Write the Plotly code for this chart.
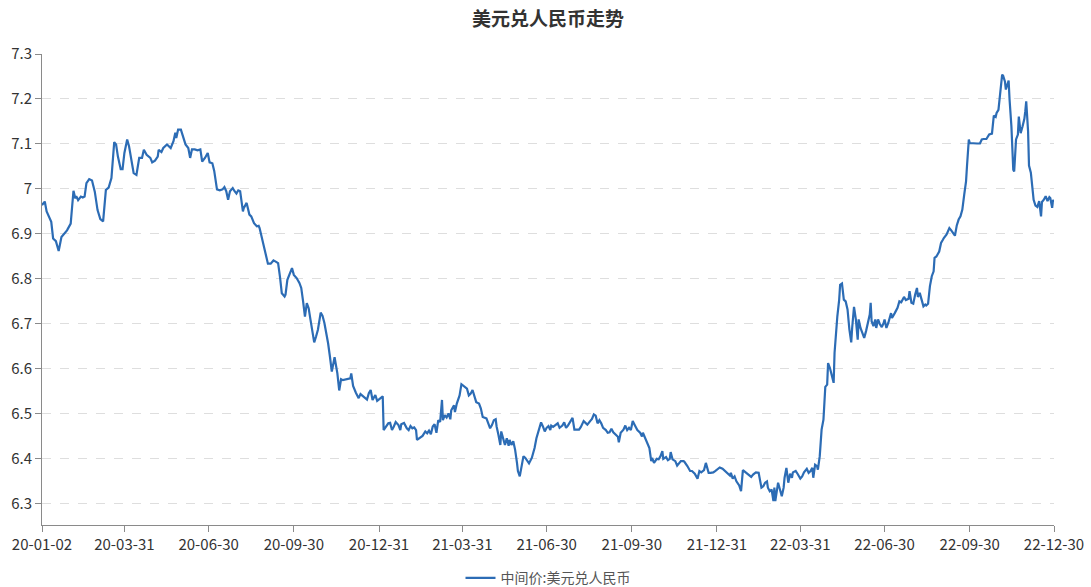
import pandas as pd
import plotly.graph_objects as go

# ---- data ----
start_date = "2020-01-02"

# days elapsed since start_date for every plotted observation
day_offset = [
    0, 3, 5, 8, 10, 12, 15, 18, 21, 27, 31, 34, 36, 37, 39, 42, 44, 46, 48, 51, 54, 57, 60, 63, 66, 69, 72, 75, 78, 80,
    82, 85, 87, 89, 92, 94, 97, 99, 102, 105, 108, 110, 113, 117, 119, 122, 125, 126, 129, 131, 135, 137, 139, 142, 144,
    145, 147, 150, 153, 155, 158, 160, 162, 165, 168, 171, 173, 176, 179, 181, 184,
    186, 189, 192, 195, 197, 199, 201, 203, 206, 208, 210, 212, 214, 217, 218, 221, 224, 226, 229, 232, 234, 235, 238,
    241, 244, 247, 250, 252, 255, 257, 259, 262, 263, 265, 268, 270, 272, 275, 278, 280, 282, 284, 286, 288, 290, 292,
    294, 296, 298, 301, 303, 305, 307, 309, 311, 313, 316, 317, 319, 321, 323, 325, 329, 333, 334, 336, 339, 342, 344,
    347, 351, 353, 355, 357, 360, 362,
    365, 368, 369, 372, 374, 376, 378, 380, 382, 385, 387, 388, 391, 394, 396, 398, 400, 402, 404, 405, 408, 411, 414,
    416, 418, 420, 422, 424, 426, 428, 430, 432, 433, 435, 437, 439, 441, 442, 445, 446, 448, 450, 451, 453, 455, 457,
    459, 461, 463, 465, 467, 469, 472, 474, 476, 478, 480, 482, 484, 486, 488, 490, 491, 493, 495, 496, 498, 500, 502,
    504, 505, 507, 509, 511, 513, 514, 516, 518, 520, 522, 524, 526, 529, 532, 534, 537, 539, 541,
    543, 545, 547, 549, 550, 552, 555, 557, 559, 562, 564, 566, 568, 570, 573, 575, 577, 580, 582, 585, 587, 589, 592,
    594, 596, 598, 600, 602, 604, 606, 609, 611, 613, 615, 617, 620, 622, 623, 625, 628, 630, 632, 634, 636, 638, 640,
    643, 646, 648, 649, 651, 653, 656, 658, 659, 661, 664, 666, 668, 670, 671, 674, 676, 678, 679, 681, 684, 686, 688,
    690, 693, 694, 697, 700, 702, 705, 708, 710, 712, 715, 717, 720, 722, 725,
    727, 730, 732, 735, 738, 741, 743, 744, 746, 748, 750, 753, 755, 757, 760, 763, 766, 768, 771, 774, 775, 777, 779,
    781, 783, 784, 786, 788, 790, 791, 792, 794, 795, 797, 799, 801, 802, 804, 806, 808, 810, 811, 814, 816, 819, 821,
    823, 826, 828, 830, 832, 833, 835, 837, 838, 840, 842, 844, 845, 846, 848, 849, 851, 853, 855, 856, 857, 859, 861,
    862, 864, 866, 868, 870, 872, 874, 875, 877, 879, 881, 882, 884, 886, 888, 890, 892, 894, 895, 896, 898, 900, 901,
    903, 905, 907, 909, 910, 912, 914, 917, 918,
    921, 924, 926, 928, 931, 933, 936, 937, 939, 941, 943, 945, 946, 948, 950, 952, 954, 955, 957, 959, 961, 963, 964,
    966, 969, 971, 973, 974, 977, 980, 982, 984, 986, 988, 990, 992, 994, 996, 998, 999, 1001, 1002, 1006, 1010, 1013,
    1015, 1017, 1020, 1023, 1026, 1027, 1028, 1030, 1031, 1033, 1034, 1035, 1037, 1038, 1040, 1041, 1043, 1044, 1045,
    1047, 1049, 1050, 1052, 1054, 1055, 1057, 1059, 1061, 1062, 1063, 1065, 1066, 1068, 1070, 1071, 1073, 1075, 1077,
    1079, 1080, 1082, 1084, 1086, 1088, 1089, 1091, 1092, 1093,
]

usd_cny = [
    6.964, 6.972, 6.950, 6.934, 6.927, 6.890, 6.884, 6.862, 6.893, 6.908, 6.923, 6.996, 6.979, 6.984, 6.975, 6.983,
    6.981, 6.983, 7.013, 7.022, 7.019, 6.994, 6.953, 6.933, 6.928, 6.998, 7.003, 7.024, 7.104, 7.099, 7.072, 7.044,
    7.044, 7.080, 7.110, 7.095, 7.057, 7.035, 7.031, 7.069, 7.069, 7.087, 7.076, 7.069, 7.059, 7.063, 7.072, 7.087,
    7.082, 7.091, 7.099, 7.095, 7.091, 7.106, 7.125, 7.113, 7.132, 7.132, 7.110, 7.099, 7.091, 7.069, 7.088, 7.088,
    7.086, 7.088, 7.061, 7.069, 7.080, 7.059, 7.057,
    7.040, 6.999, 6.997, 6.999, 7.004, 6.995, 6.976, 6.995, 7.002, 6.995, 6.990, 6.997, 6.995, 6.950, 6.958, 6.969,
    6.943, 6.939, 6.924, 6.917, 6.918, 6.913, 6.887, 6.861, 6.834, 6.834, 6.841, 6.839, 6.835, 6.805, 6.768, 6.761,
    6.765, 6.798, 6.813, 6.824, 6.809, 6.802, 6.791, 6.780, 6.750, 6.716, 6.746, 6.735, 6.709, 6.687, 6.659, 6.672,
    6.687, 6.725, 6.718, 6.702, 6.683, 6.657, 6.627, 6.594, 6.626, 6.614, 6.590, 6.552, 6.577, 6.575, 6.577, 6.579,
    6.590, 6.562, 6.547, 6.535, 6.544, 6.538, 6.532, 6.546, 6.553, 6.531, 6.542, 6.529,
    6.534, 6.539, 6.464, 6.472, 6.479, 6.480, 6.464, 6.472, 6.482, 6.475, 6.464, 6.477, 6.480, 6.468, 6.464, 6.473,
    6.468, 6.470, 6.464, 6.442, 6.446, 6.451, 6.461, 6.457, 6.463, 6.455, 6.472, 6.477, 6.458, 6.486, 6.482, 6.531,
    6.486, 6.497, 6.492, 6.501, 6.488, 6.508, 6.519, 6.504, 6.523, 6.537, 6.541, 6.566, 6.563, 6.558, 6.556, 6.541,
    6.545, 6.553, 6.539, 6.526, 6.523, 6.512, 6.493, 6.492, 6.490, 6.479, 6.468, 6.475, 6.486, 6.488, 6.472, 6.453,
    6.431, 6.461, 6.446, 6.431, 6.446, 6.429, 6.442, 6.431, 6.439, 6.420, 6.391, 6.373, 6.361, 6.384, 6.406, 6.402,
    6.395, 6.390, 6.402, 6.424, 6.446, 6.464, 6.481, 6.472,
    6.461, 6.469, 6.473, 6.464, 6.474, 6.471, 6.476, 6.479, 6.469, 6.474, 6.481, 6.469, 6.474, 6.480, 6.491, 6.465,
    6.465, 6.465, 6.471, 6.484, 6.480, 6.476, 6.484, 6.489, 6.499, 6.496, 6.479, 6.486, 6.479, 6.469, 6.464, 6.458,
    6.459, 6.467, 6.459, 6.454, 6.449, 6.437, 6.458, 6.465, 6.474, 6.464, 6.469, 6.464, 6.484, 6.476, 6.464, 6.458,
    6.450, 6.458, 6.447, 6.437, 6.424, 6.395, 6.402, 6.391, 6.400, 6.399, 6.406, 6.417, 6.400, 6.404, 6.397, 6.400,
    6.415, 6.399, 6.395, 6.385, 6.391, 6.395, 6.395, 6.393, 6.384, 6.373, 6.373, 6.367, 6.356, 6.373, 6.370, 6.375,
    6.391, 6.369, 6.369, 6.370,
    6.373, 6.378, 6.381, 6.378, 6.373, 6.367, 6.363, 6.369, 6.356, 6.361, 6.350, 6.341, 6.328, 6.375, 6.370, 6.365,
    6.360, 6.365, 6.370, 6.369, 6.360, 6.336, 6.339, 6.347, 6.350, 6.336, 6.328, 6.332, 6.306, 6.336, 6.306, 6.332,
    6.347, 6.332, 6.317, 6.336, 6.358, 6.380, 6.347, 6.367, 6.358, 6.370, 6.373, 6.367, 6.356, 6.361, 6.370, 6.378,
    6.369, 6.373, 6.380, 6.358, 6.387, 6.384, 6.376, 6.406, 6.465, 6.487, 6.528, 6.560, 6.565, 6.613, 6.602, 6.584,
    6.569, 6.636, 6.673, 6.717, 6.754, 6.787, 6.790, 6.754, 6.750, 6.732, 6.688, 6.659, 6.691, 6.738, 6.710, 6.665,
    6.710, 6.691, 6.680, 6.669, 6.684, 6.702, 6.721, 6.747, 6.706, 6.695, 6.710, 6.691, 6.710, 6.699, 6.693, 6.702,
    6.710, 6.691, 6.702, 6.724, 6.713,
    6.724, 6.736, 6.750, 6.748, 6.760, 6.753, 6.756, 6.773, 6.747, 6.745, 6.765, 6.780, 6.760, 6.769, 6.754, 6.739,
    6.743, 6.741, 6.745, 6.784, 6.806, 6.817, 6.847, 6.850, 6.861, 6.880, 6.887, 6.891, 6.899, 6.913, 6.908, 6.901,
    6.896, 6.919, 6.932, 6.939, 6.954, 6.987, 7.017, 7.050, 7.110, 7.102, 7.101, 7.101, 7.101, 7.110, 7.111, 7.111,
    7.121, 7.123, 7.143, 7.163, 7.160, 7.169, 7.176, 7.199, 7.224, 7.254, 7.252, 7.239, 7.221, 7.232, 7.241, 7.199,
    7.139, 7.043, 7.039, 7.110, 7.121, 7.161, 7.124, 7.139, 7.156, 7.173, 7.195, 7.128, 7.052, 7.036, 6.991, 6.976,
    6.963, 6.960, 6.973, 6.939, 6.971, 6.976, 6.984, 6.973, 6.982, 6.980, 6.958, 6.976, 6.970,
]

x_tick_dates = ["2020-01-02", "2020-03-31", "2020-06-30", "2020-09-30", "2020-12-31", "2021-03-31", "2021-06-30",
                "2021-09-30", "2021-12-31", "2022-03-31", "2022-06-30", "2022-09-30", "2022-12-30"]
x_tick_labels = ["20-01-02", "20-03-31", "20-06-30", "20-09-30", "20-12-31", "21-03-31", "21-06-30",
                 "21-09-30", "21-12-31", "22-03-31", "22-06-30", "22-09-30", "22-12-30"]
y_tick_values = [6.3, 6.4, 6.5, 6.6, 6.7, 6.8, 6.9, 7.0, 7.1, 7.2, 7.3]
y_tick_labels = ["6.3", "6.4", "6.5", "6.6", "6.7", "6.8", "6.9", "7", "7.1", "7.2", "7.3"]

title_text = "美元兑人民币走势"
series_name = "中间价:美元兑人民币"

# ---- figure ----
dates = pd.Timestamp(start_date) + pd.to_timedelta(day_offset, unit="D")

FONT = "Noto Sans CJK SC, Microsoft YaHei, sans-serif"
AXIS_COLOR = "#8a8a8a"

fig = go.Figure()
fig.add_trace(go.Scatter(
    x=dates, y=usd_cny, mode="lines", name=series_name,
    line=dict(color="#2c6cb5", width=2.2),
))

fig.update_layout(
    width=1091, height=587,
    margin=dict(l=42, r=37, t=54, b=62, autoexpand=False),
    paper_bgcolor="white", plot_bgcolor="white",
    font=dict(family=FONT, size=14, color="#333333"),
    title=dict(text=title_text, x=0.5, xanchor="center", xref="paper",
               y=1 - 19 / 587, yref="container", yanchor="middle",
               font=dict(family=FONT, size=19, color="#333333", weight="bold")),
    showlegend=True,
    legend=dict(orientation="h", x=0.5, xanchor="center", y=-0.113, yanchor="middle",
                font=dict(family=FONT, size=14, color="#555555"), itemwidth=30),
    xaxis=dict(
        type="date",
        range=[dates[0], dates[-1]],
        tickmode="array", tickvals=x_tick_dates, ticktext=x_tick_labels,
        showgrid=False, showline=True, linecolor=AXIS_COLOR, linewidth=1,
        ticks="outside", ticklen=6, tickcolor=AXIS_COLOR,
        tickfont=dict(family=FONT, size=15, color="#333333"),
        zeroline=False, automargin=False,
    ),
    yaxis=dict(
        range=[6.253, 7.3],
        tickmode="array", tickvals=y_tick_values, ticktext=y_tick_labels,
        showgrid=True, gridcolor="#dedede", griddash="dash", gridwidth=1,
        showline=True, linecolor=AXIS_COLOR, linewidth=1,
        ticks="outside", ticklen=6, tickcolor=AXIS_COLOR,
        tickfont=dict(family=FONT, size=15, color="#333333"),
        zeroline=False, automargin=False,
    ),
)

fig.write_html(
    "out.html",
    config={"displayModeBar": False},
    post_script="document.body.style.margin='0';document.body.style.padding='0';",
)
